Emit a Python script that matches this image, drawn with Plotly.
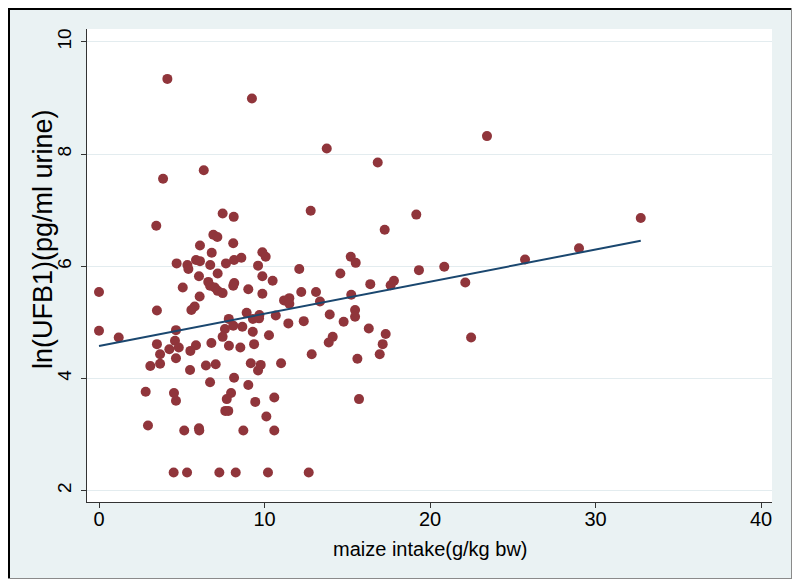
import plotly.graph_objects as go

maize_intake = [
    4.13, 9.24, 6.33, 3.87, 13.76, 16.84, 12.79, 23.44, 32.73, 29.00,
    25.74, 22.13, 22.48, 19.17, 17.26, 15.21, 15.51, 12.10, 19.33, 20.86,
    14.58, 16.39, 17.62, 17.82, 12.22, 13.11, 15.24, 11.50, 11.18, 11.50,
    13.35, 15.47, 15.47, 13.94, 11.44, 12.37, 14.78, 16.30, 17.32, 14.12,
    13.88, 17.14, 12.85, 16.96, 15.61, 11.00, 15.71, 12.67, 7.47, 8.14,
    3.46, 6.91, 7.15, 8.11, 6.10, 6.81, 9.87, 10.07, 4.69, 5.34,
    5.40, 5.86, 6.10, 6.72, 7.67, 8.16, 8.60, 9.61, 7.17, 6.04,
    9.87, 10.49, 6.60, 6.71, 8.17, 8.11, 6.99, 7.17, 7.47, 5.06,
    9.02, 9.87, 0.00, 6.08, 5.78, 5.58, 3.50, 8.92, 9.69, 10.68,
    7.84, 9.30, 9.67, 8.11, 7.61, 8.66, 4.65, 0.00, 9.29, 1.19,
    7.47, 10.27, 4.59, 3.50, 6.79, 7.85, 9.37, 4.82, 4.25, 5.86,
    5.52, 8.54, 3.69, 4.65, 3.10, 3.69, 5.50, 6.46, 7.05, 9.17,
    9.77, 9.61, 8.16, 6.71, 9.02, 2.82, 4.53, 4.65, 7.98, 7.72,
    9.44, 10.59, 7.63, 7.81, 10.11, 2.96, 5.15, 6.04, 6.06, 8.72,
    10.59, 4.51, 5.32, 7.27, 8.26, 10.21,
]

ln_ufb1 = [
    9.34, 8.99, 7.71, 7.56, 8.10, 7.85, 6.99, 8.32, 6.86, 6.32,
    6.12, 5.71, 4.73, 6.92, 6.65, 6.17, 6.06, 5.95, 5.93, 5.99,
    5.87, 5.68, 5.66, 5.74, 5.54, 5.54, 5.49, 5.43, 5.39, 5.33,
    5.37, 5.22, 5.10, 5.14, 4.98, 5.02, 5.01, 4.89, 4.79, 4.74,
    4.64, 4.61, 4.43, 4.43, 4.35, 4.27, 3.63, 2.32, 6.94, 6.88,
    6.72, 6.56, 6.52, 6.41, 6.37, 6.24, 6.25, 6.17, 6.05, 6.02,
    5.95, 6.11, 6.09, 6.02, 6.05, 6.11, 6.15, 6.01, 5.87, 5.82,
    5.82, 5.74, 5.72, 5.65, 5.70, 5.65, 5.62, 5.56, 5.52, 5.62,
    5.59, 5.51, 5.54, 5.46, 5.28, 5.22, 5.21, 5.17, 5.13, 5.12,
    5.06, 5.06, 5.07, 4.94, 4.88, 4.92, 4.86, 4.85, 4.83, 4.73,
    4.74, 4.77, 4.67, 4.61, 4.63, 4.58, 4.61, 4.55, 4.52, 4.59,
    4.49, 4.55, 4.43, 4.36, 4.22, 4.26, 4.15, 4.23, 4.25, 4.27,
    4.24, 4.14, 4.01, 3.93, 3.88, 3.76, 3.74, 3.60, 3.74, 3.63,
    3.58, 3.66, 3.42, 3.42, 3.32, 3.16, 3.07, 3.11, 3.07, 3.07,
    3.07, 2.32, 2.32, 2.32, 2.32, 2.32,
]

fit_intercept = 4.578
fit_slope = 0.0573

x_tick_values = [0, 10, 20, 30, 40]
y_tick_values = [2, 4, 6, 8, 10]

x_title = "maize intake(g/kg bw)"
y_title = "ln(UFB1)(pg/ml urine)"

fit_x = [min(maize_intake), max(maize_intake)]
fit_y = [fit_intercept + fit_slope * v for v in fit_x]

MAROON = "rgb(144,53,59)"
NAVY = "rgb(26,71,111)"
BG = "#EAF2F3"
FONT = "Liberation Sans, Arial, sans-serif"

fig = go.Figure()
fig.add_trace(go.Scatter(
    x=maize_intake, y=ln_ufb1, mode="markers",
    marker=dict(color=MAROON, size=10, line=dict(width=0)),
    showlegend=False, hoverinfo="x+y",
))
fig.add_trace(go.Scatter(
    x=fit_x, y=fit_y, mode="lines",
    line=dict(color=NAVY, width=2),
    showlegend=False,
))

# figure is 784x571 (page body margin 8px); plot region in figure px
FW, FH = 784, 571
L, R, T, B = 79, 764, 21, 494
W, H = R - L, B - T
def px(xp):
    return (xp - L) / W
def py(yp):
    return (B - yp) / H

shapes = [
    dict(type="line", xref="paper", yref="paper",
         x0=px(0), x1=px(FW), y0=py(0.5), y1=py(0.5),
         line=dict(color="black", width=3)),
    dict(type="line", xref="paper", yref="paper",
         x0=px(0.5), x1=px(0.5), y0=py(0), y1=py(FH),
         line=dict(color="black", width=3)),
    dict(type="line", xref="paper", yref="paper",
         x0=px(FW - 0.5), x1=px(FW - 0.5), y0=py(0), y1=py(FH),
         line=dict(color="#8a8a8a", width=1)),
    dict(type="line", xref="paper", yref="paper",
         x0=px(0), x1=px(FW), y0=py(FH - 0.5), y1=py(FH - 0.5),
         line=dict(color="#8a8a8a", width=1)),
]

annotations = [
    dict(text=x_title, xref="paper", yref="paper",
         x=px(422), y=py(541), xanchor="center", yanchor="middle",
         showarrow=False, font=dict(size=20, family=FONT, color="black")),
    dict(text=y_title, xref="paper", yref="paper",
         x=px(35), y=py(231), xanchor="center", yanchor="middle",
         textangle=-90,
         showarrow=False, font=dict(size=27, family=FONT, color="black")),
]

fig.update_layout(
    width=FW, height=FH,
    margin=dict(l=L, r=FW - R, t=T, b=FH - B, autoexpand=False),
    paper_bgcolor=BG, plot_bgcolor="white",
    font=dict(family=FONT, color="black"),
    shapes=shapes, annotations=annotations,
    xaxis=dict(
        range=[-0.725, 40.66], tickvals=x_tick_values,
        showgrid=False, zeroline=False,
        showline=True, linecolor="#333333", linewidth=1,
        ticks="outside", ticklen=5, tickcolor="#333333",
        tickfont=dict(size=20, family=FONT),
        ticklabelstandoff=-6,
    ),
    yaxis=dict(
        range=[1.795, 10.23], tickvals=y_tick_values,
        showgrid=True, gridcolor="#E3ECEF", gridwidth=1,
        zeroline=False,
        showline=True, linecolor="#333333", linewidth=1,
        ticks="outside", ticklen=5, tickcolor="#333333",
        tickangle=-90,
        tickfont=dict(size=19, family=FONT),
        ticklabelstandoff=2,
    ),
)

fig.write_html("out.html")
